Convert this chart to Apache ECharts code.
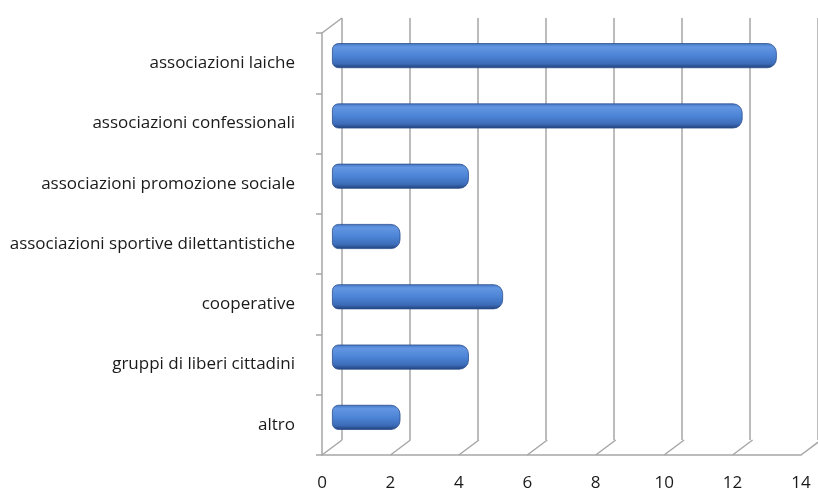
<!DOCTYPE html>
<html>
<head>
<meta charset="utf-8">
<script src="https://cdn.jsdelivr.net/npm/echarts@6/dist/echarts.min.js"></script>
<style>
  html, body { margin: 0; padding: 0; background: #ffffff; }
  #chart { width: 818px; height: 494px; }
</style>
</head>
<body>
<div id="chart"></div>
<script>
// ---- data ----
var categories = [
  'associazioni laiche',
  'associazioni confessionali',
  'associazioni promozione sociale',
  'associazioni sportive dilettantistiche',
  'cooperative',
  'gruppi di liberi cittadini',
  'altro'
];
var values = [13, 12, 4, 2, 5, 4, 2];
var xTicks = [0, 2, 4, 6, 8, 10, 12, 14];

// ---- style / layout ----
var DEPTH = [20, -15];         // pseudo-3D depth offset (px)
var FRONT = { left: 322, top: 33, width: 479, height: 422 };
var GRID_COLOR = '#a6a6a6';
var FONT = '"Open Sans", "Liberation Sans", sans-serif';

var chart = echarts.init(document.getElementById('chart'), null, { renderer: 'canvas' });

var option = {
  animation: false,
  backgroundColor: '#ffffff',
  grid: [
    { left: FRONT.left, top: FRONT.top, width: FRONT.width, height: FRONT.height },
    { left: FRONT.left + DEPTH[0], top: FRONT.top + DEPTH[1], width: FRONT.width, height: FRONT.height },
    { left: FRONT.left + DEPTH[0] / 2, top: FRONT.top + DEPTH[1] / 2, width: FRONT.width, height: FRONT.height }
  ],
  xAxis: [
    {
      gridIndex: 0, type: 'value', min: 0, max: 14, interval: 2,
      axisLine: { show: true, lineStyle: { color: GRID_COLOR, width: 1.5 } },
      axisTick: { show: false },
      splitLine: { show: false },
      axisLabel: { color: '#1a1a1a', fontSize: 17, fontFamily: FONT, margin: 20 }
    },
    {
      gridIndex: 1, type: 'value', min: 0, max: 14, interval: 2,
      axisLine: { show: false }, axisTick: { show: false }, axisLabel: { show: false },
      splitLine: { show: true, lineStyle: { color: GRID_COLOR, width: 1.5 } }
    },
    {
      gridIndex: 2, type: 'value', min: 0, max: 14, interval: 2, show: false
    }
  ],
  yAxis: [
    {
      gridIndex: 0, type: 'category', data: categories, inverse: true,
      axisLine: { show: true, lineStyle: { color: GRID_COLOR, width: 1.5 } },
      axisTick: { show: true, length: 6, lineStyle: { color: GRID_COLOR, width: 1.5 } },
      axisLabel: { color: '#1a1a1a', fontSize: 17, fontFamily: FONT, margin: 27 },
      splitLine: { show: false }
    },
    {
      gridIndex: 1, type: 'category', data: categories, inverse: true, show: false
    },
    {
      gridIndex: 2, type: 'category', data: categories, inverse: true, show: false
    }
  ],
  series: [
    {
      // floor diagonals at each tick + top-left wall edge
      type: 'custom',
      xAxisIndex: 0, yAxisIndex: 0,
      silent: true,
      z: 1,
      data: xTicks.map(function (t) { return [t, categories.length - 1]; }),
      renderItem: function (params, api) {
        var c = api.coord([api.value(0), api.value(1)]);
        var band = api.size([0, 1])[1];
        var y0 = c[1] + band / 2;
        var children = [{
          type: 'line',
          shape: { x1: c[0], y1: y0, x2: c[0] + DEPTH[0], y2: y0 + DEPTH[1] },
          style: { stroke: GRID_COLOR, lineWidth: 1.5 }
        }];
        if (params.dataIndex === 0) {
          var top = api.coord([0, 0]);
          var yt = top[1] - band / 2;
          children.push({
            type: 'line',
            shape: { x1: top[0], y1: yt, x2: top[0] + DEPTH[0], y2: yt + DEPTH[1] },
            style: { stroke: GRID_COLOR, lineWidth: 1.5 }
          });
        }
        return { type: 'group', children: children };
      }
    },
    {
      type: 'bar',
      xAxisIndex: 2, yAxisIndex: 2,
      data: values,
      barWidth: 25,
      z: 5,
      itemStyle: {
        borderRadius: [6, 9, 9, 6],
        color: new echarts.graphic.LinearGradient(0, 0, 0, 1, [
          { offset: 0, color: '#4273c2' },
          { offset: 0.15, color: '#6396e2' },
          { offset: 0.5, color: '#4d84d6' },
          { offset: 0.82, color: '#3c6cb8' },
          { offset: 1, color: '#203f77' }
        ]),
        borderColor: '#2b4f8d',
        borderWidth: 0.8
      }
    }
  ]
};
chart.setOption(option);
</script>
</body>
</html>
